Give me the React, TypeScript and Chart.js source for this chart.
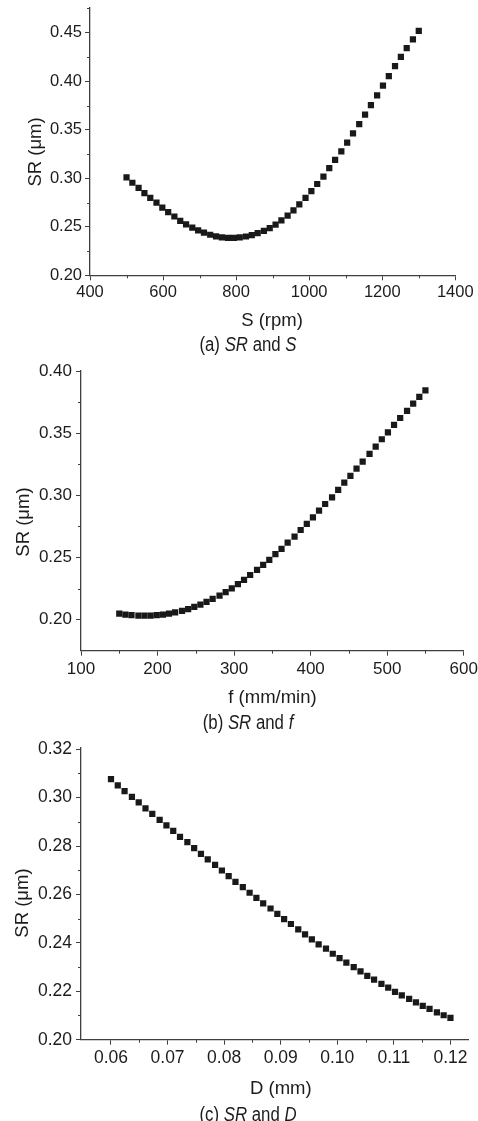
import React, { useEffect, useRef } from "react";
import { Chart, registerables } from "chart.js";

Chart.register(...registerables);

// ---------- data ----------
const speedS = [
  500, 516, 533, 549, 565, 582, 598, 614, 631, 647,
  663, 680, 696, 712, 729, 745, 761, 778, 794, 810,
  827, 843, 859, 876, 892, 908, 924, 941, 957, 973,
  990, 1006, 1022, 1039, 1055, 1071, 1088, 1104, 1120, 1137,
  1153, 1169, 1186, 1202, 1218, 1235, 1251, 1267, 1284, 1300,
];
const srVsS = [
  0.3010, 0.2954, 0.2900, 0.2847, 0.2797, 0.2748, 0.2698, 0.2652, 0.2606, 0.2562,
  0.2526, 0.2492, 0.2464, 0.2439, 0.2418, 0.2402, 0.2392, 0.2386, 0.2385, 0.2390,
  0.2400, 0.2415, 0.2435, 0.2458, 0.2486, 0.2522, 0.2565, 0.2615, 0.2670, 0.2732,
  0.2797, 0.2868, 0.2941, 0.3018, 0.3105, 0.3190, 0.3278, 0.3368, 0.3462, 0.3557,
  0.3655, 0.3755, 0.3855, 0.3955, 0.4053, 0.4155, 0.4252, 0.4342, 0.4432, 0.4520,
];

const feedF = [
  150, 158, 166, 175, 183, 191, 199, 207, 215, 223,
  232, 240, 248, 256, 264, 272, 281, 289, 297, 305,
  313, 321, 330, 338, 346, 354, 362, 370, 379, 387,
  395, 403, 411, 419, 428, 436, 444, 452, 460, 468,
  477, 485, 493, 501, 509, 517, 526, 534, 542, 550,
];
const srVsF = [
  0.2048, 0.2041, 0.2036, 0.2033, 0.2032, 0.2033, 0.2036, 0.2041, 0.2049, 0.2059,
  0.2071, 0.2085, 0.2102, 0.2121, 0.2143, 0.2167, 0.2193, 0.2222, 0.2252, 0.2285,
  0.2320, 0.2359, 0.2400, 0.2440, 0.2480, 0.2526, 0.2569, 0.2619, 0.2668, 0.2721,
  0.2770, 0.2823, 0.2877, 0.2930, 0.2984, 0.3043, 0.3102, 0.3156, 0.3214, 0.3271,
  0.3333, 0.3391, 0.3451, 0.3507, 0.3566, 0.3622, 0.3679, 0.3737, 0.3791, 0.3845,
];

const depthD = [
  0.0600, 0.0612, 0.0624, 0.0637, 0.0649, 0.0661, 0.0673, 0.0686, 0.0698, 0.0710,
  0.0722, 0.0735, 0.0747, 0.0759, 0.0771, 0.0784, 0.0796, 0.0808, 0.0820, 0.0833,
  0.0845, 0.0857, 0.0869, 0.0882, 0.0894, 0.0906, 0.0918, 0.0931, 0.0943, 0.0955,
  0.0967, 0.0980, 0.0992, 0.1004, 0.1016, 0.1029, 0.1041, 0.1053, 0.1065, 0.1078,
  0.1090, 0.1102, 0.1114, 0.1127, 0.1139, 0.1151, 0.1163, 0.1176, 0.1188, 0.1200,
];
const srVsD = [
  0.3076, 0.3051, 0.3027, 0.3003, 0.2980, 0.2956, 0.2933, 0.2908, 0.2885, 0.2863,
  0.2838, 0.2816, 0.2791, 0.2768, 0.2745, 0.2722, 0.2699, 0.2676, 0.2652, 0.2630,
  0.2607, 0.2586, 0.2563, 0.2542, 0.2520, 0.2498, 0.2478, 0.2456, 0.2435, 0.2414,
  0.2394, 0.2376, 0.2355, 0.2337, 0.2318, 0.2300, 0.2282, 0.2264, 0.2248, 0.2231,
  0.2215, 0.2198, 0.2183, 0.2169, 0.2154, 0.2140, 0.2127, 0.2113, 0.2101, 0.2090,
];

// tick values
const sTicks = [400, 600, 800, 1000, 1200, 1400];
const sMinorTicks = [500, 700, 900, 1100, 1300];
const srTicksA = [0.2, 0.25, 0.3, 0.35, 0.4, 0.45];
const srMinorA = [0.225, 0.275, 0.325, 0.375, 0.425, 0.475];

const fTicks = [100, 200, 300, 400, 500, 600];
const fMinorTicks = [150, 250, 350, 450, 550];
const srTicksB = [0.2, 0.25, 0.3, 0.35, 0.4];
const srMinorB = [0.225, 0.275, 0.325, 0.375];

const dTicks = [0.06, 0.07, 0.08, 0.09, 0.1, 0.11, 0.12];
const dMinorTicks = [0.065, 0.075, 0.085, 0.095, 0.105, 0.115];
const srTicksC = [0.2, 0.22, 0.24, 0.26, 0.28, 0.3, 0.32];
const srMinorC = [0.21, 0.23, 0.25, 0.27, 0.29, 0.31];

// text
const xTitles = ["S (rpm)", "f (mm/min)", "D (mm)"];
const yTitle = "SR (\u03bcm)";
const captionTags = ["(a)", "(b)", "(c)"];
const captionVars = ["S", "f", "D"];

// ---------- styling ----------
const AXIS = "#3f3f3f";
const TEXT = "#1e1b1c";
const POINT = "#1a1818";
const FONT = "'Liberation Sans', Arial, sans-serif";
const CANVAS_W = 520;

const minorTicksPlugin = {
  id: "minorTicks",
  afterDraw(chart: any, _args: any, opts: any) {
    const { ctx } = chart;
    const xs = chart.scales.x;
    const ys = chart.scales.y;
    ctx.save();
    ctx.strokeStyle = AXIS;
    ctx.lineWidth = 1;
    (opts.x || []).forEach((v: number) => {
      const px = Math.round(xs.getPixelForValue(v)) + 0.5;
      ctx.beginPath();
      ctx.moveTo(px, xs.top);
      ctx.lineTo(px, xs.top + 3);
      ctx.stroke();
    });
    (opts.y || []).forEach((v: number) => {
      const py = Math.round(ys.getPixelForValue(v)) + 0.5;
      ctx.beginPath();
      ctx.moveTo(ys.right - 3, py);
      ctx.lineTo(ys.right, py);
      ctx.stroke();
    });
    ctx.restore();
  },
};

type Panel = {
  xs: number[];
  ys: number[];
  xMin: number;
  xMax: number;
  yMin: number;
  yMax: number;
  xTicks: number[];
  xMinor: number[];
  yTicks: number[];
  yMinor: number[];
  xDec: number;
  yDec: number;
  top: number;
  height: number;
  plotLeft: number;
  plotRight: number;
  plotTop: number;
  plotBottom: number;
  fontSize: number;
  xPad: number;
  yPad: number;
};

const panels: Panel[] = [
  {
    xs: speedS, ys: srVsS, xMin: 400, xMax: 1400, yMin: 0.2, yMax: 0.4755,
    xTicks: sTicks, xMinor: sMinorTicks, yTicks: srTicksA, yMinor: srMinorA,
    xDec: 0, yDec: 2, top: -12, height: 330,
    plotLeft: 90, plotRight: 455.3, plotTop: 8, plotBottom: 275.3,
    fontSize: 16.5, xPad: 2, yPad: 3,
  },
  {
    xs: feedF, ys: srVsF, xMin: 100, xMax: 600, yMin: 0.175, yMax: 0.4,
    xTicks: fTicks, xMinor: fMinorTicks, yTicks: srTicksB, yMinor: srMinorB,
    xDec: 0, yDec: 2, top: 351, height: 340,
    plotLeft: 81, plotRight: 463.7, plotTop: 371, plotBottom: 650.7,
    fontSize: 17, xPad: 3.3, yPad: 4,
  },
  {
    xs: depthD, ys: srVsD, xMin: 0.0547, xMax: 0.1231, yMin: 0.2, yMax: 0.3205,
    xTicks: dTicks, xMinor: dMinorTicks, yTicks: srTicksC, yMinor: srMinorC,
    xDec: 2, yDec: 2, top: 729, height: 350,
    plotLeft: 81, plotRight: 468, plotTop: 748, plotBottom: 1039.7,
    fontSize: 17.5, xPad: 2.8, yPad: 4,
  },
];

// HTML text placement (page coordinates)
const xTitlePos = [
  [272, 320],
  [272.5, 697.3],
  [280.8, 1088.3],
];
const yTitlePos = [
  [35, 152],
  [23, 522],
  [22, 903],
];
const captionPos = [
  [248, 344],
  [248, 722],
  [248, 1113.5],
];

function ChartPanel({ p }: { p: Panel }) {
  const ref = useRef<HTMLCanvasElement | null>(null);
  useEffect(() => {
    if (!ref.current) return;
    const tickFont = { family: FONT, size: p.fontSize };
    const chart = new Chart(ref.current, {
      type: "scatter",
      data: {
        datasets: [
          {
            data: p.xs.map((x, i) => ({ x, y: p.ys[i] })),
            pointStyle: "rect",
            pointRadius: 4.4,
            pointHoverRadius: 4.4,
            pointBorderWidth: 0,
            backgroundColor: POINT,
            borderColor: POINT,
          },
        ],
      },
      options: {
        animation: false,
        responsive: false,
        maintainAspectRatio: false,
        devicePixelRatio: 1,
        events: [],
        layout: {
          padding: {
            top: p.plotTop - p.top,
            right: CANVAS_W - p.plotRight,
            left: 0,
            bottom: 0,
          },
        },
        plugins: {
          legend: { display: false },
          tooltip: { enabled: false },
          minorTicks: { x: p.xMinor, y: p.yMinor },
        } as any,
        scales: {
          x: {
            type: "linear",
            position: "bottom",
            min: p.xMin,
            max: p.xMax,
            afterBuildTicks: (s: any) => {
              s.ticks = p.xTicks.map((v) => ({ value: v }));
            },
            afterFit: (s: any) => {
              s.height = p.height - (p.plotBottom - p.top);
            },
            grid: { drawOnChartArea: false, drawTicks: true, tickLength: 5, color: AXIS, lineWidth: 1 },
            border: { display: true, color: AXIS, width: 1.3 },
            ticks: {
              autoSkip: false,
              maxRotation: 0,
              minRotation: 0,
              padding: p.xPad,
              color: TEXT,
              font: tickFont,
              callback: (v: any) => Number(v).toFixed(p.xDec),
            },
          },
          y: {
            type: "linear",
            position: "left",
            min: p.yMin,
            max: p.yMax,
            afterBuildTicks: (s: any) => {
              s.ticks = p.yTicks.map((v) => ({ value: v }));
            },
            afterFit: (s: any) => {
              s.width = p.plotLeft;
            },
            grid: { drawOnChartArea: false, drawTicks: true, tickLength: 5, color: AXIS, lineWidth: 1 },
            border: { display: true, color: AXIS, width: 1.3 },
            ticks: {
              padding: p.yPad,
              color: TEXT,
              font: tickFont,
              callback: (v: any) => Number(v).toFixed(p.yDec),
            },
          },
        },
      } as any,
      plugins: [minorTicksPlugin as any],
    });
    return () => chart.destroy();
  }, [p]);
  return (
    <canvas
      ref={ref}
      width={CANVAS_W}
      height={p.height}
      style={{ position: "absolute", left: 0, top: p.top, width: CANVAS_W, height: p.height }}
    />
  );
}

const centered = (x: number, y: number, extra: React.CSSProperties = {}): React.CSSProperties => ({
  position: "absolute",
  left: x,
  top: y,
  transform: "translate(-50%, -50%)",
  whiteSpace: "nowrap",
  lineHeight: 1,
  color: TEXT,
  ...extra,
});

export default function App() {
  return (
    <div
      style={{
        position: "absolute",
        left: 0,
        top: 0,
        width: 478,
        height: 1121,
        overflow: "hidden",
        background: "#ffffff",
      }}
    >
      {panels.map((p, i) => (
        <ChartPanel key={i} p={p} />
      ))}
      {panels.map((_, i) => (
        <div key={"xt" + i} style={centered(xTitlePos[i][0], xTitlePos[i][1], { fontFamily: FONT, fontSize: 18.5 })}>
          {xTitles[i]}
        </div>
      ))}
      {panels.map((_, i) => (
        <div
          key={"yt" + i}
          style={{
            position: "absolute",
            left: yTitlePos[i][0] - 40,
            top: yTitlePos[i][1] - 11,
            width: 80,
            height: 22,
            lineHeight: "22px",
            textAlign: "center",
            whiteSpace: "nowrap",
            color: TEXT,
            fontFamily: FONT,
            fontSize: 18.5,
            transform: "rotate(-90deg)",
          }}
        >
          {yTitle}
        </div>
      ))}
      {panels.map((_, i) => (
        <div
          key={"cap" + i}
          style={centered(captionPos[i][0], captionPos[i][1], {
            fontFamily: FONT,
            fontSize: 20,
            transform: "translate(-50%, -50%) scaleX(0.84)",
          })}
        >
          {captionTags[i]} <i>SR</i> and <i>{captionVars[i]}</i>
        </div>
      ))}
    </div>
  );
}
